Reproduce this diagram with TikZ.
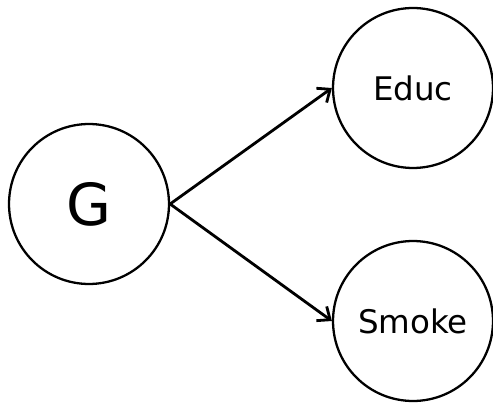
\documentclass[tikz,border=0pt]{standalone}
\usepackage{fontspec}
\setmainfont{DejaVu Sans}
\usetikzlibrary{arrows.meta}
\begin{document}
\begin{tikzpicture}[x=0.02cm,y=-0.02cm,
  var/.style={circle,draw,line width=1.3pt,minimum size=3.2cm,inner sep=0pt},
  edge/.style={->,line width=1.6pt,>={Straight Barb[length=6pt,width=10pt]}}]
\useasboundingbox (0,0) rectangle (493,405);
\node[var,font=\fontsize{33}{36}\selectfont] (G) at (89,204) {G};
\node[var,font=\fontsize{18.5}{22}\selectfont] (educ) at (413,88) {Educ};
\node[var,font=\fontsize{18.5}{22}\selectfont] (smoke) at (413,321) {Smoke};
\draw[edge] (G.east) -- (educ.west);
\draw[edge] (G.east) -- (smoke.west);
\end{tikzpicture}
\end{document}
